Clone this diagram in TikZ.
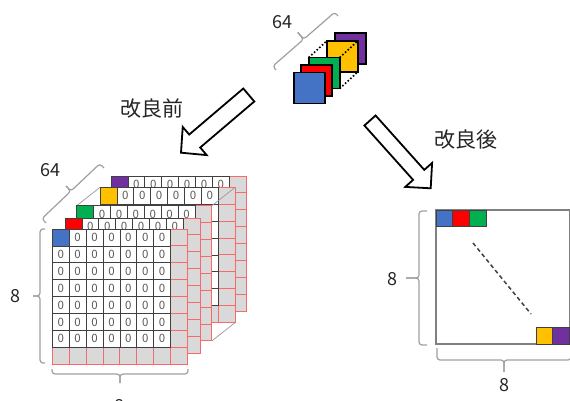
\documentclass[tikz,border=0pt]{standalone}
\usepackage{fontspec}
\setmainfont{Noto Sans CJK JP}
\usetikzlibrary{calc}
\definecolor{cblue}{HTML}{4472C4}
\definecolor{cred}{HTML}{FF0000}
\definecolor{cgreen}{HTML}{00B050}
\definecolor{cyellow}{HTML}{FFC000}
\definecolor{cpurple}{HTML}{7030A0}
\definecolor{gcellfill}{HTML}{D9D9D9}
\definecolor{redline}{HTML}{F86A6A}
\definecolor{bracegray}{HTML}{A0A0A0}
\newcommand\cs{16.9}
\tikzset{
  gcell/.style={fill=gcellfill, draw=redline, line width=0.9pt},
  wcell/.style={draw=black!75, line width=0.8pt},
  zero/.style={font=\fontsize{11.5}{12}\selectfont, text=black!65, inner sep=0pt},
  bracestyle/.style={draw=bracegray, line width=1.2pt, rounded corners=3pt},
  lbl/.style={font=\fontsize{18}{20}\selectfont, text=black!85, inner sep=0pt},
  jlbl/.style={font=\fontsize{21}{23}\selectfont, text=black!85, inner sep=0pt},
  blockarrow/.style={draw=black, line width=1.8pt, fill=white, line join=miter},
  cube/.style={draw=black, line width=1.8pt},
  gapline/.style={draw=black!40, line width=0.7pt},
  dotline/.style={draw=black, line width=1.6pt, dotted},
  cellbox/.style={draw=black!75, line width=0.8pt},
}
\newcommand\mybrace[4]{%
  \coordinate (bA) at #1; \coordinate (bB) at #2;
  \coordinate (bM) at ($(bA)!.5!(bB)$);
  \draw[bracestyle] (bA) -- ($(bA)!#3!90:(bB)$) -- ($(bM)!#3!90:(bB)$) -- ($(bM)!#4!90:(bB)$);
  \draw[bracestyle] (bB) -- ($(bB)!#3!-90:(bA)$) -- ($(bM)!#3!-90:(bA)$) -- ($(bM)!#4!-90:(bA)$);
}
% #1,#2 origin, #3 colour, #4 id, #5 last row index that shows zeros
\newcommand\mylayer[5]{%
  \begin{scope}[shift={(#1,#2)}]
    \fill[white] (0,0) rectangle (8*\cs,8*\cs);
    \foreach \i in {0,...,7} \draw[gcell] (\i*\cs,7*\cs) rectangle ++(\cs,\cs);
    \foreach \j in {0,...,6} \draw[gcell] (7*\cs,\j*\cs) rectangle ++(\cs,\cs);
    \foreach \i in {0,...,6} \foreach \j in {0,...,6} {
      \draw[wcell] (\i*\cs,\j*\cs) rectangle ++(\cs,\cs);
    }
    \foreach \i in {0,...,6} \foreach \j in {0,...,#5} {
      \ifnum\i\j>0
        \node[zero] (z#4-\i-\j) at ({(\i+.5)*\cs},{(\j+.5)*\cs}) {0};
      \fi
    }
    \draw[cellbox, fill=#3] (0,0) rectangle (\cs,\cs);
  \end{scope}}
\begin{document}
\begin{tikzpicture}[x=1pt,y=-1pt]
\useasboundingbox (0,0) rectangle (570,401);
\clip (0,0) rectangle (570,401);
\fill[white] (0,0) rectangle (570,401);

% ---------- top cubes ----------
\draw[cube, fill=cpurple] (335,33.3) rectangle ++(31,31);
\draw[cube, fill=cyellow] (326.7,41) rectangle ++(31,31);
\draw[dotline] (308.7,57.6) -- (326.7,41);
\draw[dotline] (339.7,57.6) -- (357.7,41);
\draw[dotline] (339.7,88.6) -- (357.7,72);
\draw[cube, fill=cgreen] (308.7,57.6) rectangle ++(31,31);
\draw[cube, fill=cred] (301,65.3) rectangle ++(31,31);
\draw[cube, fill=cblue] (294,72.5) rectangle ++(31,31);
\mybrace{(276,70)}{(338,16)}{5pt}{14pt}
\node[lbl] (n64b) at (282.5,21.7) {64};

% ---------- arrows ----------
\draw[blockarrow] (243.29,88.52) -- (189.20,134.55) -- (182.72,126.94) -- (181,152.7)
  -- (206.70,155.12) -- (200.22,147.51) -- (254.31,101.48) -- cycle;
\draw[blockarrow] (375.59,115.5) -- (424.28,169.89) -- (432.10,162.88) -- (430.7,188.3)
  -- (405.28,186.90) -- (413.10,179.89) -- (364.41,125.5) -- cycle;
\node[jlbl] (before) at (151.7,109) {改良前};
\node[jlbl] (after) at (465.5,140) {改良後};

% ---------- left stacked layers ----------
\mylayer{111}{176}{cpurple}{p}{0}
\mylayer{100}{187.3}{cyellow}{y}{0}
\draw[gapline] (76.7,205.7) -- (100,187.3);
\draw[gapline] (211.9,205.7) -- (235.2,187.3);
\draw[gapline] (211.9,340.9) -- (235.2,322.5);
\mylayer{76.7}{205.7}{cgreen}{g}{0}
\mylayer{65}{218}{cred}{r}{0}
\mylayer{52.3}{229}{cblue}{f}{6}

\mybrace{(46,223)}{(104,168)}{6pt}{13pt}
\node[lbl] (n64a) at (50.3,170) {64};
\mybrace{(45,363)}{(45,229)}{5pt}{12pt}
\node[lbl] (n8a) at (15,296) {8};
\mybrace{(188,369)}{(52,369)}{5pt}{14pt}
\node[lbl] (n8b) at (119.5,406.5) {8};

% ---------- right matrix ----------
\draw[draw=black!50, line width=1.8pt] (436,210) rectangle (569.5,344);
\draw[cellbox, fill=cblue] (436,210) rectangle ++(16.75,16.75);
\draw[cellbox, fill=cred] (452.75,210) rectangle ++(16.75,16.75);
\draw[cellbox, fill=cgreen] (469.5,210) rectangle ++(16.75,16.75);
\draw[cellbox, fill=cyellow] (536,327.25) rectangle ++(16.75,16.75);
\draw[cellbox, fill=cpurple] (552.75,327.25) rectangle ++(16.75,16.75);
\draw[black!75, line width=1.5pt, dash pattern=on 4pt off 3pt] (473,243) -- (531,314);
\mybrace{(427,345)}{(427,211)}{8pt}{21pt}
\node[lbl] (n8c) at (392,279) {8};
\mybrace{(571,348)}{(437,348)}{12pt}{24pt}
\node[lbl] (n8d) at (504,385) {8};
\end{tikzpicture}
\end{document}
